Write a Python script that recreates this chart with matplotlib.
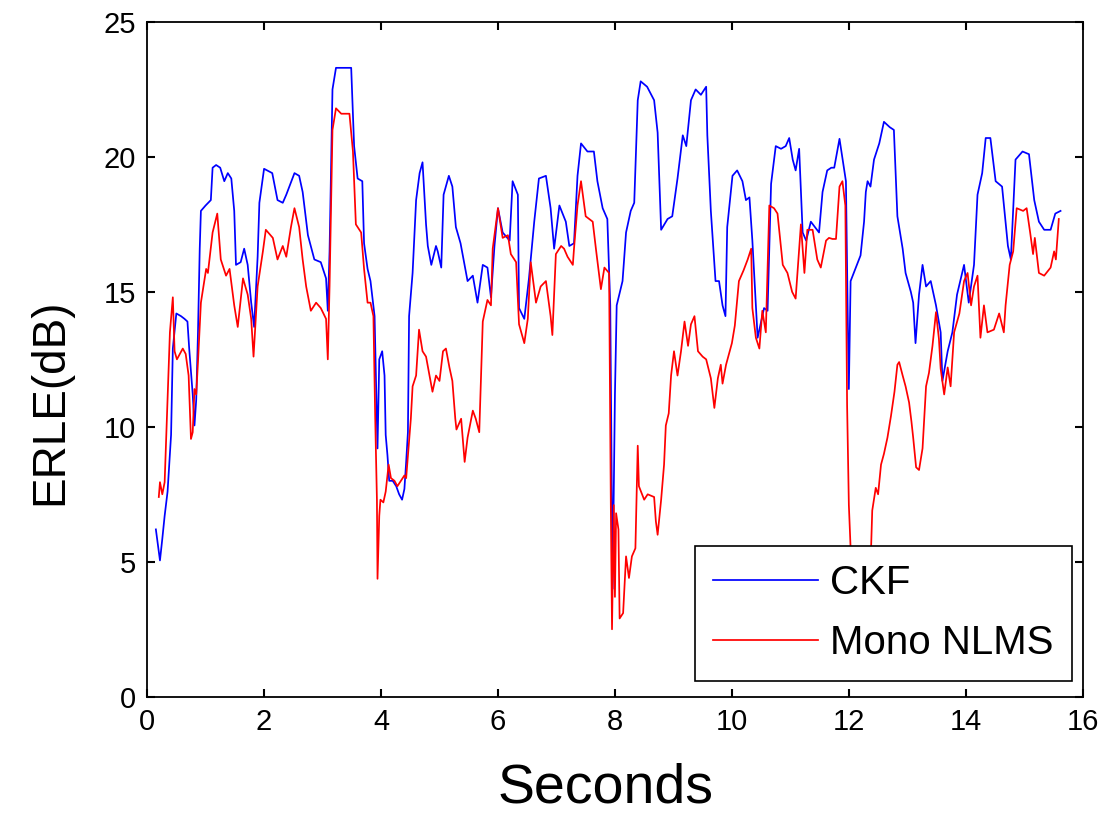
import matplotlib
matplotlib.use("Agg")
import matplotlib.pyplot as plt

################################################################
# Data (time in s, ERLE in dB)
################################################################
ckf_t = [0.15, 0.22, 0.26, 0.30, 0.35, 0.41, 0.44, 0.50, 0.58, 0.64, 0.69, 0.72, 0.78, 0.81, 0.84,
         0.87, 0.90, 0.92, 1.00, 1.09, 1.12, 1.18, 1.25, 1.32, 1.38, 1.44, 1.49, 1.52, 1.60, 1.66,
         1.72, 1.78, 1.83, 1.89, 1.92, 2.00, 2.14, 2.23, 2.32, 2.38, 2.52, 2.60, 2.66, 2.75, 2.86,
         2.97, 3.06, 3.09, 3.12, 3.17, 3.23, 3.49, 3.54, 3.60, 3.68, 3.71, 3.77, 3.82, 3.89, 3.94,
         3.97, 4.02, 4.06, 4.08, 4.11, 4.14, 4.20, 4.26, 4.31, 4.36, 4.40, 4.43, 4.46, 4.48, 4.54,
         4.60, 4.66, 4.71, 4.77, 4.80, 4.86, 4.94, 4.97, 5.03, 5.07, 5.16, 5.22, 5.28, 5.36, 5.48,
         5.57, 5.65, 5.74, 5.82, 5.88, 5.94, 6.00, 6.08, 6.20, 6.25, 6.34, 6.36, 6.45, 6.53, 6.62,
         6.70, 6.82, 6.90, 6.96, 7.05, 7.16, 7.22, 7.30, 7.36, 7.42, 7.53, 7.64, 7.70, 7.79, 7.87,
         7.92, 7.96, 8.00, 8.03, 8.13, 8.19, 8.27, 8.33, 8.39, 8.44, 8.55, 8.67, 8.73, 8.79, 8.90,
         8.98, 9.07, 9.16, 9.22, 9.30, 9.38, 9.47, 9.56, 9.58, 9.64, 9.72, 9.78, 9.84, 9.89, 9.92,
         10.01, 10.09, 10.18, 10.24, 10.30, 10.35, 10.44, 10.55, 10.61, 10.67, 10.75, 10.84, 10.92,
         10.98, 11.04, 11.09, 11.15, 11.21, 11.27, 11.35, 11.49, 11.55, 11.63, 11.70, 11.75, 11.84,
         11.95, 11.98, 12.00, 12.03, 12.12, 12.20, 12.26, 12.29, 12.32, 12.37, 12.43, 12.52, 12.60,
         12.70, 12.77, 12.83, 12.92, 12.97, 13.06, 13.10, 13.14, 13.20, 13.26, 13.32, 13.40, 13.49,
         13.57, 13.60, 13.69, 13.77, 13.85, 13.97, 14.05, 14.14, 14.20, 14.28, 14.34, 14.42, 14.51,
         14.62, 14.72, 14.77, 14.85, 14.97, 15.08, 15.17, 15.25, 15.34, 15.45, 15.53, 15.62]
ckf_db = [6.2, 5.05, 5.85, 6.7, 7.6, 9.7, 12.9, 14.2, 14.1, 14.0, 13.9, 12.9, 11.2, 10.05, 11.0,
          13.5, 16.6, 18.0, 18.2, 18.4, 19.6, 19.7, 19.6, 19.1, 19.4, 19.2, 18.0, 16.0, 16.1, 16.6,
          16.0, 14.6, 13.7, 16.3, 18.3, 19.56, 19.4, 18.4, 18.3, 18.6, 19.4, 19.3, 18.7, 17.1, 16.2,
          16.1, 15.5, 14.3, 16.5, 22.5, 23.3, 23.3, 20.4, 19.2, 19.1, 16.8, 15.85, 15.4, 14.1, 9.2,
          12.5, 12.8, 11.9, 9.7, 8.95, 8.0, 8.0, 7.8, 7.5, 7.3, 7.7, 8.7, 9.8, 14.1, 15.7,
          18.4, 19.4, 19.8, 17.5, 16.7, 16.0, 16.7, 16.5, 15.9, 18.6, 19.3, 18.9, 17.4, 16.8, 15.4,
          15.6, 14.6, 16.0, 15.9, 14.8, 16.7, 18.1, 17.2, 16.9, 19.1, 18.6, 14.4, 14.0, 15.5, 17.6,
          19.2, 19.3, 18.1, 16.6, 18.2, 17.6, 16.7, 16.8, 19.3, 20.5, 20.2, 20.2, 19.1, 18.1, 17.7,
          14.5, 4.0, 11.2, 14.5, 15.4, 17.2, 18.0, 18.3, 22.1, 22.8, 22.6, 22.1, 20.9, 17.3, 17.7,
          17.8, 19.2, 20.8, 20.4, 22.1, 22.5, 22.3, 22.6, 20.8, 18.0, 15.4, 15.4, 14.5, 14.1, 17.4,
          19.3, 19.5, 19.1, 18.4, 18.5, 16.9, 13.3, 14.4, 14.3, 19.0, 20.4, 20.3, 20.4,
          20.7, 19.9, 19.5, 20.3, 17.2, 16.9, 17.6, 17.2, 18.7, 19.5, 19.6, 19.6, 20.67,
          19.1, 14.25, 11.4, 15.4, 15.9, 16.35, 17.6, 18.7, 19.1, 18.9, 19.9, 20.5, 21.3,
          21.1, 21.0, 17.8, 16.6, 15.7, 15.0, 14.6, 13.1, 14.9, 16.0, 15.2, 15.4, 14.5,
          13.5, 11.7, 12.8, 13.5, 14.9, 16.0, 14.6, 16.0, 18.6, 19.4, 20.7, 20.7, 19.1,
          18.9, 16.7, 16.2, 19.9, 20.2, 20.1, 18.4, 17.6, 17.3, 17.3, 17.9, 18.0]

nlms_t = [0.20, 0.22, 0.26, 0.30, 0.35, 0.39, 0.44, 0.47, 0.51, 0.56, 0.61, 0.66, 0.71, 0.75, 0.78,
          0.81, 0.84, 0.87, 0.92, 1.01, 1.04, 1.12, 1.20, 1.26, 1.35, 1.41, 1.49, 1.55, 1.64, 1.72,
          1.78, 1.82, 1.89, 1.98, 2.03, 2.15, 2.23, 2.32, 2.38, 2.46, 2.52, 2.60, 2.66, 2.72, 2.80,
          2.89, 2.97, 3.06, 3.09, 3.12, 3.17, 3.23, 3.32, 3.46, 3.52, 3.57, 3.66, 3.71, 3.77, 3.82,
          3.87, 3.90, 3.93, 3.94, 3.97, 3.99, 4.04, 4.08, 4.13, 4.17, 4.23, 4.28, 4.34, 4.40, 4.43,
          4.47, 4.51, 4.54, 4.60, 4.65, 4.71, 4.77, 4.83, 4.88, 4.94, 5.00, 5.06, 5.11, 5.17, 5.22,
          5.27, 5.29, 5.37, 5.43, 5.48, 5.57, 5.62, 5.68, 5.74, 5.82, 5.88, 5.91, 6.00, 6.08, 6.17,
          6.22, 6.31, 6.36, 6.45, 6.51, 6.56, 6.65, 6.73, 6.82, 6.90, 6.93, 6.99, 7.08, 7.13, 7.19,
          7.28, 7.30, 7.36, 7.42, 7.50, 7.62, 7.68, 7.76, 7.82, 7.90, 7.93, 7.95, 7.98, 8.00, 8.02,
          8.06, 8.08, 8.14, 8.19, 8.24, 8.29, 8.35, 8.39, 8.41, 8.50, 8.56, 8.67, 8.70, 8.73, 8.79,
          8.84, 8.87, 8.92, 8.96, 9.01, 9.07, 9.13, 9.19, 9.25, 9.30, 9.36, 9.42, 9.50, 9.56, 9.64,
          9.70, 9.76, 9.81, 9.84, 9.90, 10.00, 10.05, 10.12, 10.20, 10.27, 10.33, 10.35, 10.41, 10.47,
          10.52, 10.58, 10.64, 10.72, 10.78, 10.87, 10.95, 11.03, 11.09, 11.18, 11.24, 11.29, 11.38,
          11.46, 11.52, 11.61, 11.66, 11.72, 11.78, 11.84, 11.89, 11.94, 11.97, 12.00, 12.03, 12.08,
          12.30, 12.38, 12.40, 12.46, 12.50, 12.55, 12.60, 12.66, 12.72, 12.78, 12.83, 12.86, 12.92,
          12.97, 13.03, 13.07, 13.10, 13.15, 13.20, 13.26, 13.32, 13.37, 13.43, 13.49, 13.54, 13.57,
          13.63, 13.69, 13.74, 13.80, 13.89, 13.97, 14.03, 14.09, 14.14, 14.20, 14.25, 14.31, 14.37,
          14.48, 14.57, 14.65, 14.68, 14.75, 14.81, 14.87, 14.98, 15.04, 15.10, 15.15, 15.18, 15.25,
          15.34, 15.45, 15.51, 15.54, 15.59]
nlms_db = [7.4, 7.95, 7.5, 7.95, 11.0, 13.5, 14.8, 12.8, 12.5, 12.7, 12.9, 12.7, 11.9, 9.55, 9.8,
           11.4, 11.2, 12.4, 14.6, 15.85, 15.7, 17.2, 17.9, 16.2, 15.6, 15.85, 14.5, 13.7, 15.5, 14.9,
           14.0, 12.6, 15.2, 16.5, 17.3, 17.0, 16.2, 16.7, 16.3, 17.4, 18.1, 17.4, 16.2, 15.2, 14.3,
           14.6, 14.4, 14.0, 12.5, 15.2, 21.0, 21.8, 21.6, 21.6, 20.2, 17.5, 17.2, 15.85, 14.6, 14.6,
           14.1, 10.4, 7.3, 4.37, 6.7, 7.3, 7.2, 7.6, 8.6, 8.1, 8.0, 7.8, 8.0, 8.2, 8.1,
           9.2, 10.3, 11.5, 11.9, 13.6, 12.8, 12.6, 11.9, 11.3, 11.9, 11.7, 12.8, 12.9, 12.2, 11.7,
           10.3, 9.9, 10.3, 8.7, 9.6, 10.6, 10.3, 9.8, 13.9, 14.7, 14.5, 16.6, 18.1, 17.0, 17.1,
           16.4, 16.1, 13.8, 13.1, 14.0, 16.1, 14.6, 15.2, 15.4, 14.1, 13.4, 16.4, 16.7, 16.6, 16.3,
           16.0, 16.6, 18.2, 19.1, 17.8, 17.6, 16.5, 15.1, 15.9, 15.7, 7.0, 2.5, 7.1, 3.7, 6.8,
           6.2, 2.9, 3.1, 5.2, 4.4, 5.2, 5.5, 9.3, 7.8, 7.3, 7.5, 7.4, 6.5, 6.0, 7.3,
           8.6, 10.05, 10.5, 11.9, 12.8, 11.9, 12.8, 13.9, 13.0, 13.8, 14.1, 12.8, 12.6, 12.5, 11.8,
           10.7, 11.8, 12.3, 11.6, 12.3, 13.1, 13.75, 15.4, 15.8, 16.2, 16.6, 14.4, 13.3, 12.9,
           14.3, 13.5, 18.2, 18.1, 17.9, 16.0, 15.7, 15.0, 14.75, 17.5, 15.7, 17.3, 17.3,
           16.2, 15.9, 16.9, 17.0, 16.96, 16.96, 18.9, 19.1, 18.2, 10.8, 7.1, 5.5, 2.0,
           2.5, 5.5, 6.9, 7.74, 7.5, 8.6, 9.0, 9.6, 10.4, 11.3, 12.3, 12.4, 11.9,
           11.5, 10.9, 10.2, 9.6, 8.5, 8.4, 9.2, 11.5, 12.0, 13.0, 14.25, 13.26, 12.15,
           11.2, 12.2, 11.5, 13.5, 14.2, 15.4, 15.7, 14.5, 15.2, 15.6, 13.3, 14.5, 13.5,
           13.6, 14.2, 13.5, 14.5, 16.0, 16.5, 18.1, 18.0, 18.1, 17.2, 16.4, 17.0, 15.7,
           15.6, 15.9, 16.5, 16.2, 17.7]

x_ticks = [0, 2, 4, 6, 8, 10, 12, 14, 16]
y_ticks = [0, 5, 10, 15, 20, 25]

################################################################
# Plot
################################################################
plt.rcParams['font.family'] = ['Liberation Sans', 'DejaVu Sans']

fig = plt.figure(figsize=(11.06, 8.13), dpi=100)
ax = fig.add_axes([0.133, 0.143, 0.846, 0.830])

ax.plot(ckf_t, ckf_db, color='#0000ff', lw=1.25, label='CKF')
ax.plot(nlms_t, nlms_db, color='#ff0000', lw=1.25, label='Mono NLMS')

ax.set_xlim(0, 16)
ax.set_ylim(0, 25)
ax.set_xticks(x_ticks)
ax.set_yticks(y_ticks)
ax.tick_params(direction='in', length=6, width=1.5, top=True, right=True,
               labelsize=21, pad=8)
for s in ax.spines.values():
    s.set_linewidth(1.3)

ax.set_xlabel('Seconds', fontsize=40)
ax.xaxis.set_label_coords(0.49, -0.097)
ax.set_ylabel('ERLE(dB)', fontsize=33)
ax.yaxis.set_label_coords(-0.080, 0.437)

leg = ax.legend(loc='lower right', bbox_to_anchor=(0.988, 0.024), fontsize=29,
                frameon=True, fancybox=False, framealpha=1, edgecolor='black',
                borderpad=0.45, labelspacing=0.55, handlelength=2.6,
                handletextpad=0.3, borderaxespad=0)
leg.get_frame().set_linewidth(1.2)

fig.savefig('out.png', dpi=100)
